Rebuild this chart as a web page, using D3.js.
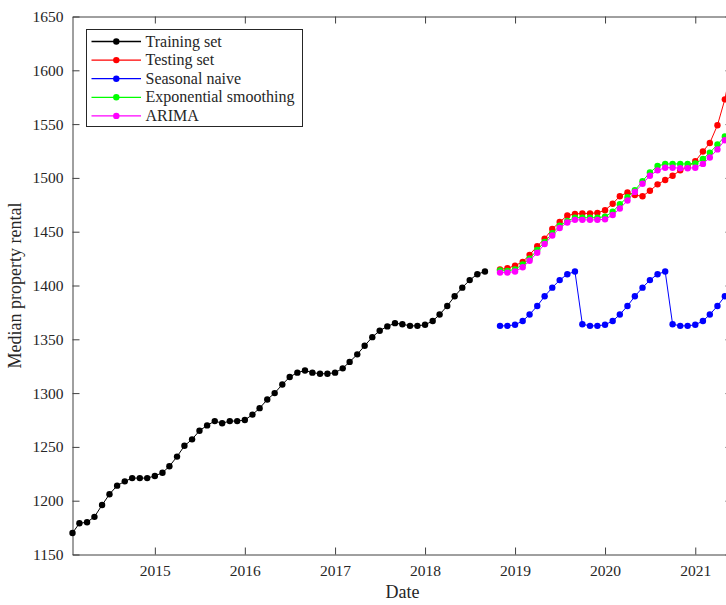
<!DOCTYPE html>
<html>
    <head>
        <meta charset="utf-8">
        <title>Median property rental</title>
        <style>
            body { margin: 0; background: #fff; }
            text { font-family: "Liberation Serif", "Times New Roman", serif; fill: #262626; }
        </style>
    </head>
    <body>
        <script src="https://d3js.org/d3.v7.min.js"></script>
        <script>
            // monthly data, first month of each part
            var trainStart = "2014-02";
            var testStart = "2018-11";

            // Training set (Feb 2014 - Sep 2018)
            var training = [1170, 1179, 1180, 1185, 1196, 1206, 1214, 1218, 1221, 1221,
                1221, 1223, 1226, 1232, 1241, 1251, 1257, 1265, 1270, 1274,
                1272, 1274, 1274, 1275, 1280, 1286, 1294, 1300, 1308, 1315,
                1319, 1321, 1319, 1318, 1318, 1319, 1323, 1329, 1336, 1344,
                1352, 1358, 1362, 1365, 1364, 1362.5, 1362.5, 1363.5, 1367, 1373,
                1381, 1390, 1398, 1405, 1410.5, 1413];

            // Nov 2018 - Jun 2021
            var testing = [1415, 1416, 1418.5, 1422, 1428.5, 1436.5, 1443.5, 1452.5, 1459, 1465,
                1466.5, 1467, 1467, 1467.5, 1470, 1476, 1483, 1486.5, 1484, 1483,
                1488, 1494, 1498, 1502, 1507, 1510, 1515.5, 1524.5, 1532.5, 1549,
                1573, 1608];
            var seasonal = [1362.5, 1362.5, 1363.5, 1367, 1373, 1381, 1390, 1398, 1405, 1410.5,
                1413, 1364, 1362.5, 1362.5, 1363.5, 1367, 1373, 1381, 1390, 1398,
                1405, 1410.5, 1413, 1364, 1362.5, 1362.5, 1363.5, 1367, 1373, 1381,
                1390, 1398];
            var expSmooth = [1414, 1413.5, 1415, 1419.5, 1425, 1433, 1440.5, 1448.5, 1455.5, 1460,
                1463, 1463, 1463, 1463, 1464, 1468.5, 1475.5, 1482, 1488.5, 1497,
                1505, 1511, 1513, 1513, 1513, 1513, 1513.5, 1517.5, 1523.5, 1531,
                1538.5, 1546];
            var arima = [1412, 1412, 1413, 1417, 1423, 1430.5, 1438.5, 1446.5, 1453.5, 1458.5,
                1461, 1461, 1461, 1461, 1461.5, 1465.5, 1471.5, 1479, 1487, 1494.5,
                1502, 1507, 1509.5, 1509.5, 1509, 1509, 1509.5, 1513, 1519, 1526.5,
                1535, 1543];

            var seriesNames = ["Training set", "Testing set", "Seasonal naive", "Exponential smoothing", "ARIMA"];
            var seriesColors = ["#000000", "#ff0000", "#0000ff", "#00ff00", "#ff00ff"];

            var yTicks = [1150, 1200, 1250, 1300, 1350, 1400, 1450, 1500, 1550, 1600, 1650];
            var xTickYears = [2015, 2016, 2017, 2018, 2019, 2020, 2021];

            var width = 726, height = 605;
            var plotL = 72.5, plotR = 732.5, plotT = 16.5, plotB = 554.5;
            var axisColor = "#404040";
            var tickLen = 7;

            var parseMonth = d3.timeParse("%Y-%m");
            function months(start, n) {
                var s = parseMonth(start);
                return d3.timeMonth.range(s, d3.timeMonth.offset(s, n));
            }
            function toPoints(start, vals) {
                var ds = months(start, vals.length);
                return vals.map(function(v, i) { return {x: ds[i], y: v}; });
            }

            var dataset = [
                toPoints(trainStart, training),
                toPoints(testStart, testing),
                toPoints(testStart, seasonal),
                toPoints(testStart, expSmooth),
                toPoints(testStart, arima)
            ];

            var xScale = d3.scaleTime()
                .domain([parseMonth("2014-02"), parseMonth("2021-06")])
                .range([plotL, plotR]);
            var yScale = d3.scaleLinear()
                .domain([1150, 1650])
                .range([plotB, plotT]);

            var svg = d3.select("body").append("svg")
                .attr("width", width)
                .attr("height", height);

            svg.append("defs").append("clipPath")
                .attr("id", "plotclip")
                .append("rect")
                .attr("x", plotL).attr("y", plotT)
                .attr("width", plotR - plotL).attr("height", plotB - plotT);

            var xTicks = xTickYears.map(function(y) { return new Date(y, 0, 1); });

            // axes: bottom / left with labels, top / right only ticks
            var xAxis = d3.axisBottom(xScale)
                .tickValues(xTicks)
                .tickFormat(d3.timeFormat("%Y"))
                .tickSizeInner(-tickLen)
                .tickSizeOuter(0)
                .tickPadding(10);
            var yAxis = d3.axisLeft(yScale)
                .tickValues(yTicks)
                .tickFormat(d3.format("d"))
                .tickSizeInner(-tickLen)
                .tickSizeOuter(0)
                .tickPadding(9);

            var gx = svg.append("g")
                .attr("transform", "translate(0," + plotB + ")")
                .call(xAxis);
            var gy = svg.append("g")
                .attr("transform", "translate(" + plotL + ",0)")
                .call(yAxis);
            var gxt = svg.append("g")
                .attr("transform", "translate(0," + plotT + ")")
                .call(d3.axisTop(xScale).tickValues(xTicks).tickSizeInner(-tickLen).tickSizeOuter(0).tickFormat(""));
            var gyr = svg.append("g")
                .attr("transform", "translate(" + plotR + ",0)")
                .call(d3.axisRight(yScale).tickValues(yTicks).tickSizeInner(-tickLen).tickSizeOuter(0).tickFormat(""));

            [gx, gy, gxt, gyr].forEach(function(g) {
                g.selectAll("path, line").attr("stroke", axisColor).attr("stroke-width", 1);
                g.selectAll("text")
                    .attr("fill", "#262626")
                    .style("font-size", "15.5px")
                    .style("font-family", "'Liberation Serif', serif");
            });

            // lines + markers
            var line = d3.line()
                .x(function(d) { return xScale(d.x); })
                .y(function(d) { return yScale(d.y); });

            var lineG = svg.append("g")
                .selectAll("g")
                .data(dataset)
                .enter()
                .append("g");

            lineG.append("path")
                .attr("clip-path", "url(#plotclip)")
                .attr("fill", "none")
                .attr("stroke", function(d, i) { return seriesColors[i]; })
                .attr("stroke-width", 1)
                .attr("d", line);

            lineG.selectAll("circle")
                .data(function(d, i) {
                    return d.map(function(p) { return {x: p.x, y: p.y, c: seriesColors[i]}; });
                })
                .enter()
                .append("circle")
                .attr("cx", function(d) { return xScale(d.x); })
                .attr("cy", function(d) { return yScale(d.y); })
                .attr("r", 3.2)
                .attr("fill", function(d) { return d.c; });

            // axis titles
            svg.append("text")
                .attr("x", (plotL + plotR) / 2)
                .attr("y", 598)
                .attr("text-anchor", "middle")
                .style("font-size", "18px")
                .text("Date");
            svg.append("text")
                .attr("transform", "translate(21," + (plotT + plotB) / 2 + ") rotate(-90)")
                .attr("text-anchor", "middle")
                .style("font-size", "18px")
                .text("Median property rental");

            // legend
            var lg = svg.append("g");
            lg.append("rect")
                .attr("x", 86.5).attr("y", 29.5)
                .attr("width", 216).attr("height", 97)
                .attr("fill", "#fff")
                .attr("stroke", "#262626")
                .attr("stroke-width", 1);

            var legend = lg.selectAll("g")
                .data(seriesNames)
                .enter()
                .append("g")
                .attr("transform", function(d, i) {
                    return "translate(0," + (41.5 + i * 18.6) + ")";
                });
            legend.append("line")
                .attr("x1", 91.5).attr("x2", 141)
                .attr("stroke", function(d, i) { return seriesColors[i]; })
                .attr("stroke-width", 1.3);
            legend.append("circle")
                .attr("cx", 116.3).attr("r", 3.2)
                .attr("fill", function(d, i) { return seriesColors[i]; });
            legend.append("text")
                .attr("x", 145.5)
                .attr("dy", "0.32em")
                .style("font-size", "16px")
                .attr("fill", "#000")
                .text(function(d) { return d; });
        </script>
    </body>
</html>
